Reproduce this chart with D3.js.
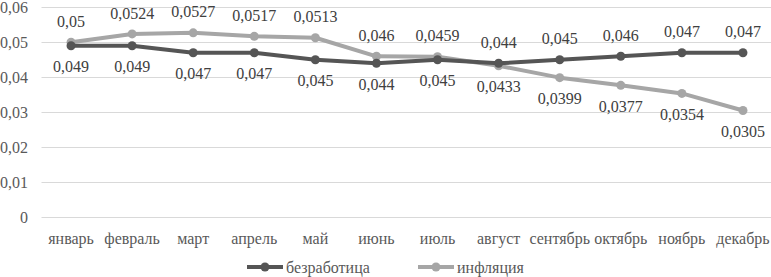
<!DOCTYPE html>
<html>
  <head>
    <meta charset="utf-8" />
    <title>Line Chart</title>
    <script src="https://d3js.org/d3.v7.min.js"></script>
    <style>
      body {
        margin: 0;
        background: #fff;
      }
    </style>
  </head>
  <body>
    <svg id="chart"></svg>

    <script>
      var months = ["январь", "февраль", "март", "апрель", "май", "июнь", "июль",
        "август", "сентябрь", "октябрь", "ноябрь", "декабрь"];
      var unemployment = [0.049, 0.049, 0.047, 0.047, 0.045, 0.044, 0.045, 0.044,
        0.045, 0.046, 0.047, 0.047];
      var inflation = [0.05, 0.0524, 0.0527, 0.0517, 0.0513, 0.046, 0.0459, 0.0433,
        0.0399, 0.0377, 0.0354, 0.0305];
      var seriesNames = ["безработица", "инфляция"];
      var yTicks = [0, 0.01, 0.02, 0.03, 0.04, 0.05, 0.06];

      var width = 771;
      var height = 277;

      var svg = d3.select("#chart")
        .attr("width", width)
        .attr("height", height)
        .style("font-family", "'Liberation Serif', 'Times New Roman', serif");

      var x = d3.scaleBand()
        .domain(months)
        .range([40.5, 773.5]);

      var y = d3.scaleLinear()
        .domain([0, 0.06])
        .range([217.3, 7.3]);

      var fmt = function(v) { return String(v).replace(".", ","); };

      // gridlines
      svg.append("g")
        .selectAll("line")
        .data(yTicks)
        .enter().append("line")
        .attr("x1", 41.5)
        .attr("x2", width)
        .attr("y1", function(d) { return Math.round(y(d)) + 0.5; })
        .attr("y2", function(d) { return Math.round(y(d)) + 0.5; })
        .attr("stroke", "#d9d9d9")
        .attr("stroke-width", 1);

      // y axis labels
      svg.append("g")
        .selectAll("text")
        .data(yTicks)
        .enter().append("text")
        .attr("x", 28)
        .attr("y", function(d) { return y(d); })
        .attr("dy", "0.35em")
        .attr("text-anchor", "end")
        .attr("font-size", 16)
        .attr("fill", "#595959")
        .text(function(d) { return fmt(d); });

      // x axis labels
      svg.append("g")
        .selectAll("text")
        .data(months)
        .enter().append("text")
        .attr("x", function(d) { return x(d) + x.bandwidth() / 2; })
        .attr("y", 238)
        .attr("dy", "0.35em")
        .attr("text-anchor", "middle")
        .attr("font-size", 16)
        .attr("fill", "#595959")
        .text(function(d) { return d; });

      var series = [
        { name: seriesNames[0], values: unemployment, color: "#555555" },
        { name: seriesNames[1], values: inflation, color: "#a6a6a6" }
      ];

      var line = d3.line()
        .x(function(d, i) { return x(months[i]) + x.bandwidth() / 2; })
        .y(function(d) { return y(d); });

      // unemployment sits on top in the picture
      [series[1], series[0]].forEach(function(s) {
        svg.append("path")
          .datum(s.values)
          .attr("d", line)
          .attr("fill", "none")
          .attr("stroke", s.color)
          .attr("stroke-width", 4)
          .attr("stroke-linejoin", "round");

        svg.append("g")
          .selectAll("circle")
          .data(s.values)
          .enter().append("circle")
          .attr("cx", function(d, i) { return x(months[i]) + x.bandwidth() / 2; })
          .attr("cy", function(d) { return y(d); })
          .attr("r", 4.5)
          .attr("fill", s.color);
      });

      // data labels: the higher series gets its label above
      series.forEach(function(s, si) {
        var other = series[1 - si].values;
        svg.append("g")
          .selectAll("text")
          .data(s.values)
          .enter().append("text")
          .attr("x", function(d, i) { return x(months[i]) + x.bandwidth() / 2; })
          .attr("y", function(d, i) {
            var above = d > other[i];
            return y(d) + (above ? -21 : 21);
          })
          .attr("dy", "0.35em")
          .attr("text-anchor", "middle")
          .attr("font-size", 16)
          .attr("fill", "#404040")
          .text(function(d) { return fmt(d); });
      });

      // legend
      var legendX = [247, 418];
      var legend = svg.append("g")
        .selectAll("g")
        .data(series)
        .enter().append("g")
        .attr("transform", function(d, i) { return "translate(" + legendX[i] + ",267)"; });

      legend.append("line")
        .attr("x1", 0)
        .attr("x2", 36)
        .attr("stroke", function(d) { return d.color; })
        .attr("stroke-width", 4);

      legend.append("circle")
        .attr("cx", 18)
        .attr("r", 4.5)
        .attr("fill", function(d) { return d.color; });

      legend.append("text")
        .attr("x", 39)
        .attr("dy", "0.35em")
        .attr("font-size", 16)
        .attr("fill", "#595959")
        .text(function(d) { return d.name; });
    </script>
  </body>
</html>
